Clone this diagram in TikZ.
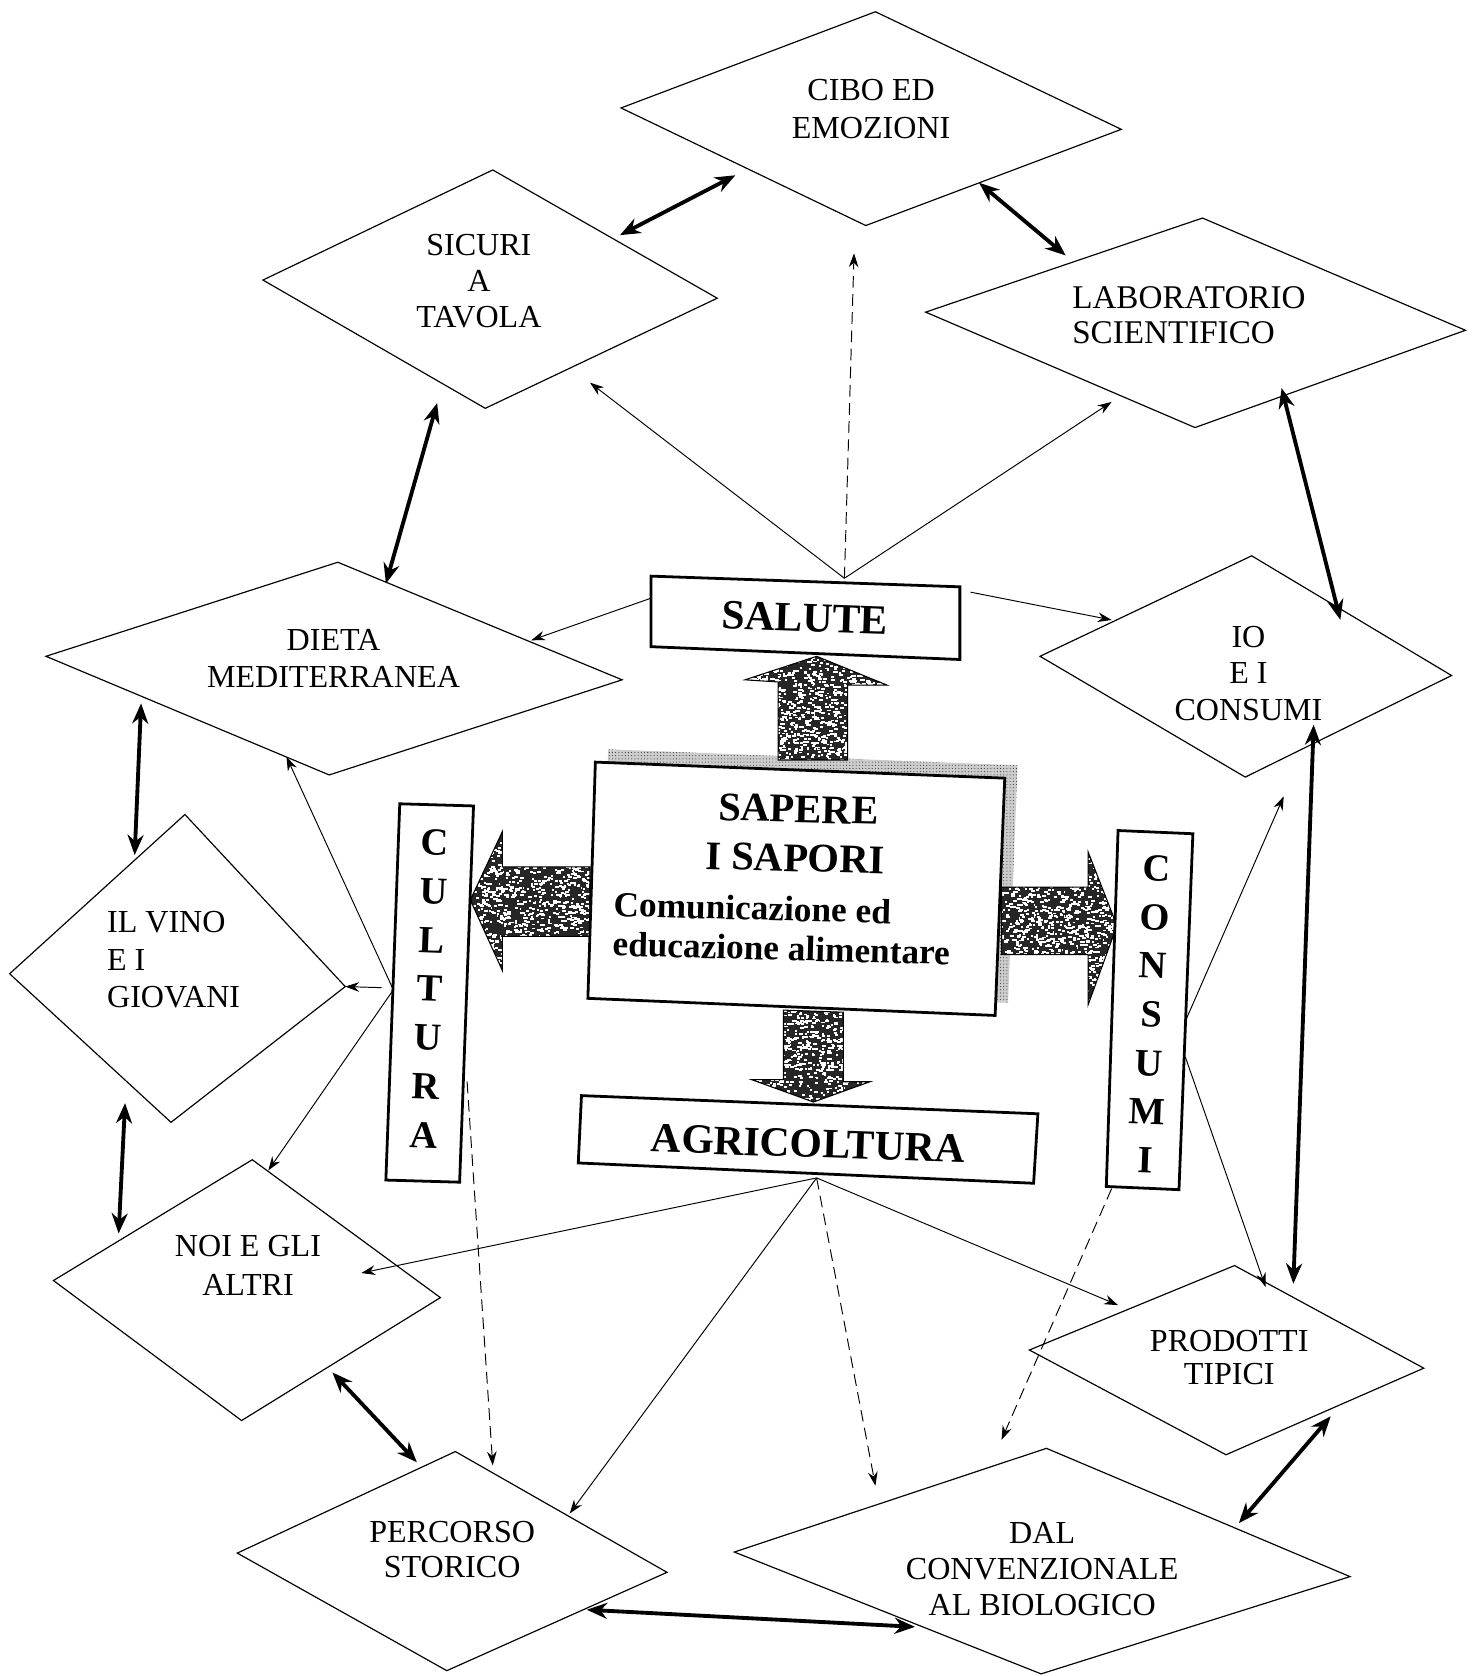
\documentclass[tikz,border=0pt]{standalone}
\usepackage{fontspec}
\setmainfont{Liberation Serif}
\usetikzlibrary{arrows.meta,patterns}

% grainy stippled fill: #1 closed path, #2 number of specks,
% #3,#4 upper-left corner and #5,#6 size of the area to sprinkle
\newcommand\grainyarrow[6]{%
  \begin{scope}
    \clip #1;
    \fill[black!85] (#3,#4) rectangle ++(#5,#6);
    \foreach \k in {1,...,#2} {%
      \pgfmathsetmacro\gx{#3+rnd*#5}%
      \pgfmathsetmacro\gy{#4+rnd*#6}%
      \pgfmathsetmacro\gw{1.5+rnd*2.5}%
      \fill[white] (\gx,\gy) rectangle ++(\gw,1.8);
    }
  \end{scope}
  \draw[line width=1pt, line join=miter] #1;
}

\begin{document}
\begin{tikzpicture}[x=1pt,y=-1pt,
  diamondline/.style={line width=1.1pt, line join=miter},
  boxline/.style={line width=2.6pt, fill=white, line join=miter},
  thinarrow/.style={line width=0.9pt, -{Stealth[length=13pt,width=9pt]}},
  dasharrow/.style={thinarrow, dash pattern=on 11pt off 6pt},
  bothway/.style={line width=3.6pt, {Stealth[length=19pt,width=15pt]}-{Stealth[length=19pt,width=15pt]}},
  shadowband/.style={preaction={fill=black!20}, pattern=dots, pattern color=black!80},
  dtext/.style={font=\fontsize{30}{35}\selectfont, align=center, inner sep=0pt},
  bigtext/.style={font=\bfseries\fontsize{39}{46}\selectfont, inner sep=0pt},
  columntext/.style={font=\bfseries\fontsize{36}{45.6}\selectfont, align=center, inner sep=0pt, rotate=-2.2}
]
\useasboundingbox (0,0) rectangle (1380,1568);
\pgfmathsetseed{4711}

% ---------- diamond corners ----------
\coordinate (cibo-l) at (581,101);  \coordinate (cibo-t) at (819,11);
\coordinate (cibo-r) at (1049,121); \coordinate (cibo-b) at (810,211);
\coordinate (sic-l) at (246,262);   \coordinate (sic-t) at (461,159);
\coordinate (sic-r) at (671,279);   \coordinate (sic-b) at (454,382);
\coordinate (lab-l) at (866,292);   \coordinate (lab-t) at (1125,204);
\coordinate (lab-r) at (1371,309);  \coordinate (lab-b) at (1118,400);
\coordinate (dieta-l) at (43,614);  \coordinate (dieta-t) at (316,526);
\coordinate (dieta-r) at (582,636); \coordinate (dieta-b) at (308,725);
\coordinate (io-l) at (973,614);    \coordinate (io-t) at (1171,520);
\coordinate (io-r) at (1358,632);   \coordinate (io-b) at (1165,727);
\coordinate (vino-l) at (9,911);    \coordinate (vino-t) at (173,762);
\coordinate (vino-r) at (323,923);  \coordinate (vino-b) at (160,1050);
\coordinate (noi-l) at (50,1198);   \coordinate (noi-t) at (236,1085);
\coordinate (noi-r) at (412,1214);  \coordinate (noi-b) at (226,1329);
\coordinate (perc-l) at (222,1453); \coordinate (perc-t) at (426,1358);
\coordinate (perc-r) at (624,1471); \coordinate (perc-b) at (418,1563);
\coordinate (dal-l) at (687,1452);  \coordinate (dal-t) at (979,1355);
\coordinate (dal-r) at (1263,1475); \coordinate (dal-b) at (974,1566);
\coordinate (prod-l) at (963,1263); \coordinate (prod-t) at (1155,1184);
\coordinate (prod-r) at (1332,1280);\coordinate (prod-b) at (1147,1361);

\foreach \d in {cibo,sic,lab,dieta,io,vino,noi,perc,dal,prod}
  \draw[diamondline] (\d-l) -- (\d-t) -- (\d-r) -- (\d-b) -- cycle;

% ---------- connector ends ----------
\coordinate (salute-top) at (790,541);
\coordinate (salute-w) at (608,560);
\coordinate (salute-e) at (908,554);
\coordinate (sic-in) at (552,358);
\coordinate (cibo-in) at (799,237);
\coordinate (lab-in) at (1040,376);
\coordinate (dieta-in) at (497,599);
\coordinate (io-in) at (1040,580);

\coordinate (cultura-w) at (368,926);
\coordinate (vino-tail) at (357,924);
\coordinate (vino-in) at (323,923);
\coordinate (dieta-in2) at (268,708);
\coordinate (noi-in) at (251,1095);
\coordinate (cultura-e) at (437,1012);
\coordinate (perc-in) at (461,1371);

\coordinate (agri-s) at (764,1102);
\coordinate (noi-in2) at (338,1191);
\coordinate (perc-in2) at (533,1416);
\coordinate (dal-in) at (819,1390);
\coordinate (prod-in) at (1046,1221);

\coordinate (consumi-e1) at (1110,953);
\coordinate (io-in2) at (1201,745);
\coordinate (consumi-e2) at (1109,989);
\coordinate (prod-in2) at (1184,1204);
\coordinate (consumi-s) at (1040,1112);
\coordinate (dal-in2) at (937,1347);

% ---------- links between neighbouring themes ----------
\coordinate (sc-a) at (580,220);   \coordinate (sc-b) at (688,164);
\coordinate (cl-a) at (916,171);   \coordinate (cl-b) at (997,239);
\coordinate (sd-a) at (409,377);   \coordinate (sd-b) at (361,546);
\coordinate (li-a) at (1199,363);  \coordinate (li-b) at (1254,580);
\coordinate (dv-a) at (132,658);   \coordinate (dv-b) at (126,800);
\coordinate (vn-a) at (117,1032);  \coordinate (vn-b) at (111,1154);
\coordinate (np-a) at (311,1284);  \coordinate (np-b) at (390,1368);
\coordinate (pd-a) at (549,1506);  \coordinate (pd-b) at (856,1522);
\coordinate (rd-a) at (1245,1325); \coordinate (rd-b) at (1159,1425);
\coordinate (ip-a) at (1229,678);  \coordinate (ip-b) at (1210,1201);

\foreach \a/\b in {sc-a/sc-b, cl-a/cl-b, sd-a/sd-b, li-a/li-b, dv-a/dv-b,
                   vn-a/vn-b, np-a/np-b, pd-a/pd-b, rd-a/rd-b, ip-a/ip-b}
  \draw[bothway] (\a) -- (\b);

% ---------- thin connectors ----------
\draw[thinarrow] (salute-top) -- (sic-in);
\draw[dasharrow] (salute-top) -- (cibo-in);
\draw[thinarrow] (salute-top) -- (lab-in);
\draw[thinarrow] (salute-w) -- (dieta-in);
\draw[thinarrow] (salute-e) -- (io-in);

\draw[thinarrow] (vino-tail) -- (vino-in);
\draw[thinarrow] (cultura-w) -- (dieta-in2);
\draw[thinarrow] (cultura-w) -- (noi-in);
\draw[dasharrow] (cultura-e) -- (perc-in);

\draw[thinarrow] (agri-s) -- (noi-in2);
\draw[thinarrow] (agri-s) -- (perc-in2);
\draw[dasharrow] (agri-s) -- (dal-in);
\draw[thinarrow] (agri-s) -- (prod-in);

\draw[thinarrow] (consumi-e1) -- (io-in2);
\draw[thinarrow] (consumi-e2) -- (prod-in2);
\draw[dasharrow] (consumi-s) -- (dal-in2);

% ---------- central block ----------
% stippled shadow behind the main box
\fill[shadowband] (569,701) -- (952,716) -- (943,938) -- (562,922) -- cycle;

% broad stippled arrows
\grainyarrow{(728,711) -- (728,638) -- (697,636) -- (764,614) -- (830,641) -- (793,641) -- (793,711) -- cycle}{1100}{695}{612}{137}{100}
\grainyarrow{(552,811) -- (470,811) -- (470,778) -- (440,842) -- (470,908) -- (470,876) -- (552,876) -- cycle}{1150}{438}{776}{116}{134}
\grainyarrow{(937,830) -- (1018,830) -- (1018,797) -- (1045,866) -- (1018,940) -- (1018,893) -- (937,893) -- cycle}{1200}{935}{795}{112}{147}
\grainyarrow{(733,945) -- (733,1010) -- (703,1010) -- (761,1031) -- (814,1012) -- (789,1012) -- (789,947) -- cycle}{750}{701}{943}{115}{90}

\draw[boxline] (609,539) -- (898,549) -- (898,617) -- (609,605) -- cycle;
\draw[boxline] (557,713) -- (940,728) -- (931,950) -- (550,934) -- cycle;
\draw[boxline] (374,752) -- (443,754) -- (430,1106) -- (361,1104) -- cycle;
\draw[boxline] (1046,777) -- (1116,780) -- (1103,1113) -- (1035,1110) -- cycle;
\draw[boxline] (544,1025) -- (971,1042) -- (967,1107) -- (541,1088) -- cycle;

\node[bigtext, rotate=-2] (salute) at (753,578) {SALUTE};
\node[bigtext, font=\bfseries\fontsize{38}{46}\selectfont, rotate=-1.5] (sapere) at (747,757) {SAPERE};
\node[bigtext, font=\bfseries\fontsize{38}{46}\selectfont, rotate=-1.5] (sapori) at (744,803) {I SAPORI};
\node[font=\bfseries\fontsize{33}{36}\selectfont, anchor=west, inner sep=0pt, rotate=-1.5] (comunicazione) at (574,846) {Comunicazione ed};
\node[font=\bfseries\fontsize{33}{36}\selectfont, anchor=west, inner sep=0pt, rotate=-1.5] (educazione) at (573,883) {educazione alimentare};
\node[bigtext, rotate=-2] (agricoltura) at (756,1070) {AGRICOLTURA};
\node[columntext] (cultura) at (402,925) {C\\U\\L\\T\\U\\R\\A};
\node[columntext] (consumi) at (1077,949) {C\\O\\N\\S\\U\\M\\I};

% ---------- diamond labels ----------
\node[dtext, font=\fontsize{30}{36}\selectfont] (cibo) at (815,102) {CIBO ED\\EMOZIONI};
\node[dtext, font=\fontsize{30}{34}\selectfont] (sicuri) at (448,263) {SICURI\\A\\TAVOLA};
\node[dtext, font=\fontsize{31}{33}\selectfont, align=left, anchor=west] (lab) at (1003,295) {LABORATORIO\\SCIENTIFICO};
\node[dtext, font=\fontsize{30}{34}\selectfont] (dieta) at (312,616) {DIETA\\MEDITERRANEA};
\node[dtext, font=\fontsize{30}{34}\selectfont] (io) at (1168,630) {IO\\E I\\CONSUMI};
\node[dtext, font=\fontsize{30}{35}\selectfont, align=left, anchor=west] (vino) at (100,898) {IL VINO\\E I\\GIOVANI};
\node[dtext, font=\fontsize{30}{36}\selectfont] (noi) at (232,1184) {NOI E GLI\\ALTRI};
\node[dtext, font=\fontsize{30}{33}\selectfont] (percorso) at (423,1450) {PERCORSO\\STORICO};
\node[dtext, font=\fontsize{30}{34}\selectfont] (dal) at (975,1468) {DAL\\CONVENZIONALE\\AL BIOLOGICO};
\node[dtext, font=\fontsize{30}{31}\selectfont] (prodotti) at (1150,1270) {PRODOTTI\\TIPICI};

\end{tikzpicture}
\end{document}
